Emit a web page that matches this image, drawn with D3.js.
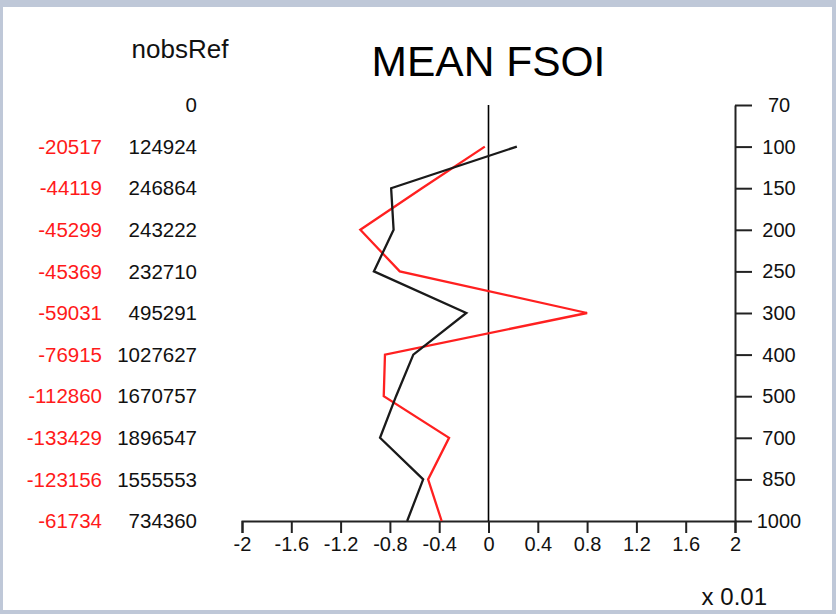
<!DOCTYPE html>
<html>
<head>
<meta charset="utf-8">
<script src="https://cdn.jsdelivr.net/npm/d3@7"></script>
<style>
  body { margin: 0; background: #bfc8d8; }
  svg { display: block; font-family: "Liberation Sans", Arial, sans-serif; }
</style>
</head>
<body>
<svg id="chart"></svg>
<script>
// pressure levels (hPa), top to bottom
const levels = ['70', '100', '150', '200', '250', '300', '400', '500', '700', '850', '1000']
// number of obs per level (black column) and the red column
const nobsRef = [0, 124924, 246864, 243222, 232710, 495291, 1027627, 1670757, 1896547, 1555553, 734360]
const nobsDiff = [null, -20517, -44119, -45299, -45369, -59031, -76915, -112860, -133429, -123156, -61734]
// mean FSOI (x 0.01) per level, from 100 hPa down
const fsoiLevels = ['100', '150', '200', '250', '300', '400', '500', '700', '850', '1000']
const fsoiRed = [-0.03, -0.54, -1.04, -0.72, 0.80, -0.84, -0.85, -0.32, -0.49, -0.38]
const fsoiBlack = [0.23, -0.79, -0.77, -0.93, -0.18, -0.61, -0.75, -0.88, -0.53, -0.66]
const xTicks = [-2, -1.6, -1.2, -0.8, -0.4, 0, 0.4, 0.8, 1.2, 1.6, 2]

const W = 836, H = 614
const svg = d3.select('#chart').attr('width', W).attr('height', H)

// white plotting page on the grey backdrop
svg.append('rect').attr('x', 3).attr('y', 7).attr('width', 829).attr('height', 603).attr('fill', '#fff')

const x = d3.scaleLinear().domain([-2, 2]).range([242, 735])
const y = d3.scalePoint().domain(levels).range([105, 521])

const fmt = (d) => String(+d.toFixed(1))

// bottom axis
const xAxis = svg.append('g')
  .attr('transform', `translate(0, ${y('1000')})`)
  .call(d3.axisBottom(x).tickValues(xTicks).tickFormat(fmt).tickSize(12).tickPadding(4))
xAxis.selectAll('path, line').attr('stroke', '#222').attr('stroke-width', 2)
xAxis.selectAll('text').attr('font-size', 20).attr('fill', '#111').attr('font-family', 'Liberation Sans, Arial, sans-serif')

// right axis with the levels
const yAxis = svg.append('g')
  .attr('transform', `translate(${x(2)}, 0)`)
  .call(d3.axisRight(y).tickSize(17).tickSizeOuter(0))
yAxis.selectAll('path, line').attr('stroke', '#222').attr('stroke-width', 2)
yAxis.selectAll('text')
  .attr('font-size', 20).attr('fill', '#111').attr('font-family', 'Liberation Sans, Arial, sans-serif')
  .attr('text-anchor', 'middle').attr('x', 44)

// zero line
svg.append('line')
  .attr('x1', x(0)).attr('x2', x(0))
  .attr('y1', y('70')).attr('y2', y('1000'))
  .attr('stroke', '#000').attr('stroke-width', 1.6)

const line = d3.line()
  .x((d) => x(d[1]))
  .y((d) => y(d[0]))

svg.append('path')
  .datum(d3.zip(fsoiLevels, fsoiRed))
  .attr('d', line)
  .attr('fill', 'none').attr('stroke', '#ff2020').attr('stroke-width', 2.3)

svg.append('path')
  .datum(d3.zip(fsoiLevels, fsoiBlack))
  .attr('d', line)
  .attr('fill', 'none').attr('stroke', '#1a1a1a').attr('stroke-width', 2.3)

// left text columns
svg.selectAll('.nobs')
  .data(levels)
  .join('text')
  .attr('class', 'nobs')
  .attr('x', 197)
  .attr('y', (d) => y(d))
  .attr('dy', '0.35em')
  .attr('text-anchor', 'end')
  .attr('font-size', 20.5)
  .attr('fill', '#111')
  .text((d, i) => nobsRef[i])

svg.selectAll('.diff')
  .data(levels.filter((d, i) => nobsDiff[i] !== null))
  .join('text')
  .attr('class', 'diff')
  .attr('x', 102)
  .attr('y', (d) => y(d))
  .attr('dy', '0.35em')
  .attr('text-anchor', 'end')
  .attr('font-size', 20.5)
  .attr('fill', '#ff1a1a')
  .text((d) => nobsDiff[levels.indexOf(d)])

// titles
svg.append('text')
  .attr('x', x(0)).attr('y', 76)
  .attr('text-anchor', 'middle')
  .attr('font-size', 42.5)
  .attr('fill', '#000')
  .text('MEAN FSOI')

svg.append('text')
  .attr('x', 180).attr('y', 58)
  .attr('text-anchor', 'middle')
  .attr('font-size', 26)
  .attr('fill', '#111')
  .text('nobsRef')

svg.append('text')
  .attr('x', 767).attr('y', 605)
  .attr('text-anchor', 'end')
  .attr('font-size', 24)
  .attr('fill', '#111')
  .text('x 0.01')
</script>
</body>
</html>
